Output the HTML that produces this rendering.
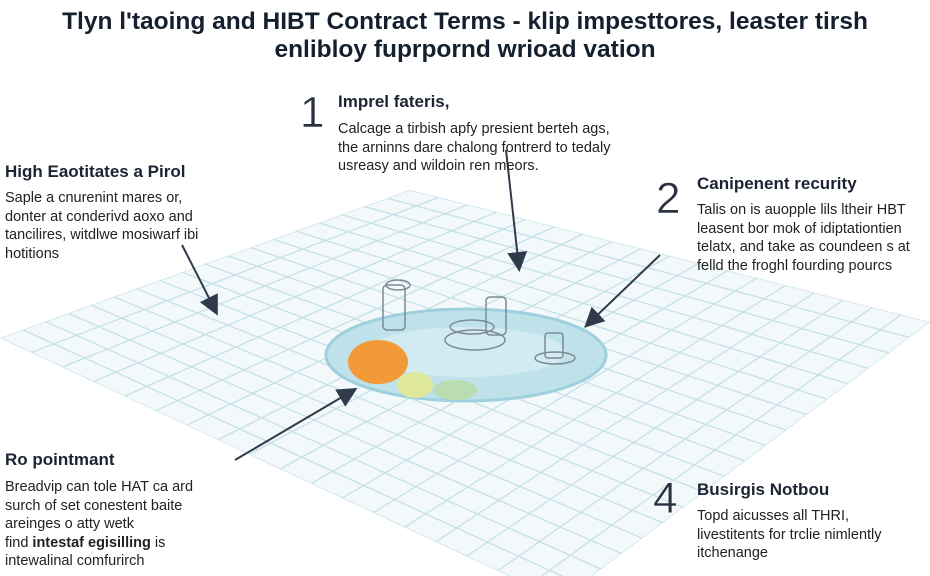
<!DOCTYPE html>
<html><head><meta charset="utf-8"><style>
html,body{margin:0;padding:0;background:#fff;}
body{width:930px;height:576px;position:relative;overflow:hidden;font-family:"Liberation Sans",sans-serif;color:#1c2433;}
.t{position:absolute;white-space:nowrap;}
.title{left:0;width:930px;text-align:center;font-weight:bold;font-size:24.5px;color:#14202e;}
.h{font-weight:bold;font-size:17px;}
.b{font-size:14.5px;line-height:18.5px;color:#222;}
.n{font-size:44px;color:#2a3140;font-weight:300;-webkit-text-stroke:0.5px #fff;}
</style></head><body>
<svg width="930" height="576" style="position:absolute;left:0;top:0">
<defs><clipPath id="c"><polygon points="0,338 410,190 930,322 560,600"/></clipPath>
<marker id="a" markerWidth="10" markerHeight="10" refX="8" refY="5" orient="auto"><path d="M0,0 L10,5 L0,10 z" fill="#2f3a4a"/></marker></defs>
<g clip-path="url(#c)">
<rect x="0" y="180" width="930" height="420" fill="#f3f9fb"/>
<g id="g" stroke="#c4e0e8" stroke-width="1.3" fill="none"></g>
</g>
<ellipse cx="466" cy="355" rx="140" ry="46" fill="#bfe2ea" stroke="#9fd0de" stroke-width="3"/>
<ellipse cx="466" cy="352" rx="100" ry="25" fill="#d6eef3" opacity="0.8"/>
<ellipse cx="378" cy="362" rx="30" ry="22" fill="#f29a38"/>
<ellipse cx="415" cy="385" rx="18" ry="13" fill="#dfe79a"/>
<ellipse cx="455" cy="390" rx="22" ry="10" fill="#b9dcb0"/>
<g stroke="#7b8a95" stroke-width="1.5" fill="none">
<rect x="383" y="285" width="22" height="45" rx="4"/><ellipse cx="398" cy="285" rx="12" ry="5"/>
<rect x="486" y="297" width="20" height="38" rx="4"/>
<ellipse cx="475" cy="340" rx="30" ry="10"/><ellipse cx="472" cy="327" rx="22" ry="7"/>
<rect x="545" y="333" width="18" height="25" rx="3"/><ellipse cx="555" cy="358" rx="20" ry="6"/>
</g>
<g stroke="#2f3a4a" stroke-width="2" fill="none" marker-end="url(#a)">
<path d="M182 245 Q200 280 216 312"/>
<path d="M506 150 L519 268"/>
<path d="M660 255 L587 325"/>
<path d="M235 460 L354 390"/>
</g>
</svg>
<script>
var g=document.getElementById('g'),s='';
var L=[0,338],T=[410,190],R=[930,322],B=[560,600];
function lp(p,q,t){return [p[0]+(q[0]-p[0])*t,p[1]+(q[1]-p[1])*t];}
for(var i=0;i<=18;i++){var t=i/18;var a=lp(L,T,t),b=lp(B,R,t);s+='<line x1="'+a[0]+'" y1="'+a[1]+'" x2="'+b[0]+'" y2="'+b[1]+'"/>';
var c=lp(T,R,t),d=lp(L,B,t);s+='<line x1="'+c[0]+'" y1="'+c[1]+'" x2="'+d[0]+'" y2="'+d[1]+'"/>';}
g.innerHTML=s;
</script>
<div class="t title" style="top:8px">Tlyn l'taoing and HIBT Contract Terms - klip impesttores, leaster tirsh</div>
<div class="t title" style="top:36px">enlibloy fuprpornd wrioad vation</div>

<div class="t n" style="left:300px;top:88px">1</div>
<div class="t h" style="left:338px;top:92px">Imprel fateris,</div>
<div class="t b" style="left:338px;top:120px">Calcage a tirbish apfy presient berteh ags,<br>the arninns dare chalong fontrerd to tedaly<br>usreasy and wildoin ren meors.</div>

<div class="t h" style="left:5px;top:162px">High Eaotitates a Pirol</div>
<div class="t b" style="left:5px;top:189px">Saple a cnurenint mares or,<br>donter at conderivd aoxo and<br>tancilires, witdlwe mosiwarf ibi<br>hotitions</div>

<div class="t n" style="left:656px;top:174px">2</div>
<div class="t h" style="left:697px;top:174px">Canipenent recurity</div>
<div class="t b" style="left:697px;top:201px">Talis on is auopple lils ltheir HBT<br>leasent bor mok of idiptationtien<br>telatx, and take as coundeen s at<br>felld the froghl fourding pourcs</div>

<div class="t h" style="left:5px;top:450px">Ro pointmant</div>
<div class="t b" style="left:5px;top:478px">Breadvip can tole HAT ca ard<br>surch of set conestent baite<br>areinges o atty wetk<br>find <b>intestaf egisilling</b> is<br>intewalinal comfurirch</div>

<div class="t n" style="left:653px;top:474px">4</div>
<div class="t h" style="left:697px;top:480px">Busirgis Notbou</div>
<div class="t b" style="left:697px;top:507px">Topd aicusses all THRI,<br>livestitents for trclie nimlently<br>itchenange</div>
</body></html>
